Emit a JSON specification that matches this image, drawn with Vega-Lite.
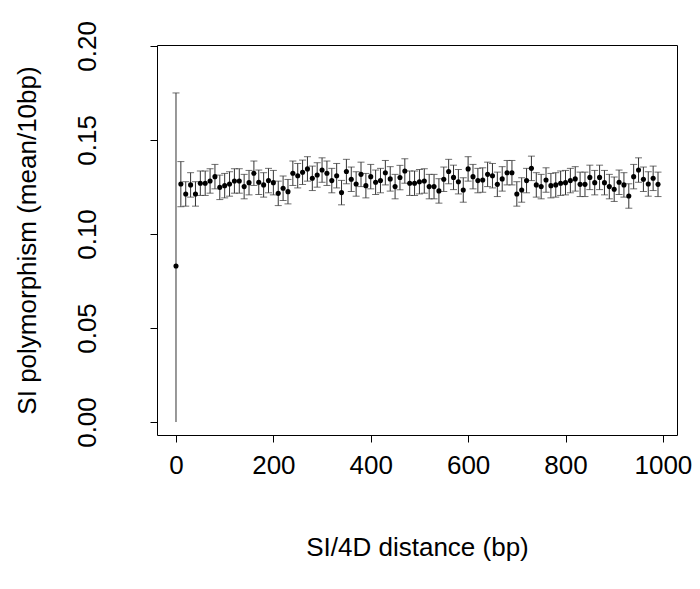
{
  "$schema": "https://vega.github.io/schema/vega-lite/v6.json",
  "autosize": "none",
  "padding": {"left": 157, "top": 45, "right": 23, "bottom": 154},
  "width": 520,
  "height": 390,
  "background": "white",
  "config": {
    "view": {"stroke": "black", "strokeWidth": 1},
    "font": "Liberation Sans",
    "axis": {"grid": false, "domain": false, "tickColor": "black", "tickSize": 7, "labelFontSize": 26, "titleFontSize": 26, "titleFontWeight": "normal", "labelColor": "black", "titleColor": "black", "labelFont": "Liberation Sans", "titleFont": "Liberation Sans"}
  },
  "data": {
    "values": [
      {"d": 0, "v": 0.083, "lo": 0.0, "hi": 0.175},
      {"d": 10, "v": 0.1266, "lo": 0.1145, "hi": 0.1385},
      {"d": 20, "v": 0.1213, "lo": 0.1148, "hi": 0.1278}, {"d": 30, "v": 0.1261, "lo": 0.1196, "hi": 0.1326},
      {"d": 40, "v": 0.1213, "lo": 0.1148, "hi": 0.1278}, {"d": 50, "v": 0.1270, "lo": 0.1205, "hi": 0.1335},
      {"d": 60, "v": 0.1270, "lo": 0.1205, "hi": 0.1335}, {"d": 70, "v": 0.1282, "lo": 0.1217, "hi": 0.1347},
      {"d": 80, "v": 0.1305, "lo": 0.1240, "hi": 0.1370}, {"d": 90, "v": 0.1248, "lo": 0.1183, "hi": 0.1313},
      {"d": 100, "v": 0.1257, "lo": 0.1192, "hi": 0.1322}, {"d": 110, "v": 0.1266, "lo": 0.1201, "hi": 0.1331},
      {"d": 120, "v": 0.1282, "lo": 0.1217, "hi": 0.1347}, {"d": 130, "v": 0.1282, "lo": 0.1217, "hi": 0.1347},
      {"d": 140, "v": 0.1252, "lo": 0.1187, "hi": 0.1317}, {"d": 150, "v": 0.1273, "lo": 0.1208, "hi": 0.1338},
      {"d": 160, "v": 0.1323, "lo": 0.1258, "hi": 0.1388}, {"d": 170, "v": 0.1275, "lo": 0.1210, "hi": 0.1340},
      {"d": 180, "v": 0.1261, "lo": 0.1196, "hi": 0.1326}, {"d": 190, "v": 0.1284, "lo": 0.1219, "hi": 0.1349},
      {"d": 200, "v": 0.1273, "lo": 0.1208, "hi": 0.1338}, {"d": 210, "v": 0.1216, "lo": 0.1151, "hi": 0.1281},
      {"d": 220, "v": 0.1243, "lo": 0.1178, "hi": 0.1308}, {"d": 230, "v": 0.1225, "lo": 0.1160, "hi": 0.1290},
      {"d": 240, "v": 0.1323, "lo": 0.1258, "hi": 0.1388}, {"d": 250, "v": 0.1310, "lo": 0.1245, "hi": 0.1375},
      {"d": 260, "v": 0.1328, "lo": 0.1263, "hi": 0.1393}, {"d": 270, "v": 0.1346, "lo": 0.1281, "hi": 0.1411},
      {"d": 280, "v": 0.1296, "lo": 0.1231, "hi": 0.1361}, {"d": 290, "v": 0.1314, "lo": 0.1249, "hi": 0.1379},
      {"d": 300, "v": 0.1340, "lo": 0.1275, "hi": 0.1405}, {"d": 310, "v": 0.1323, "lo": 0.1258, "hi": 0.1388},
      {"d": 320, "v": 0.1284, "lo": 0.1219, "hi": 0.1349}, {"d": 330, "v": 0.1310, "lo": 0.1245, "hi": 0.1375},
      {"d": 340, "v": 0.1220, "lo": 0.1155, "hi": 0.1285}, {"d": 350, "v": 0.1332, "lo": 0.1267, "hi": 0.1397},
      {"d": 360, "v": 0.1291, "lo": 0.1226, "hi": 0.1356}, {"d": 370, "v": 0.1266, "lo": 0.1201, "hi": 0.1331},
      {"d": 380, "v": 0.1317, "lo": 0.1252, "hi": 0.1382}, {"d": 390, "v": 0.1257, "lo": 0.1192, "hi": 0.1322},
      {"d": 400, "v": 0.1305, "lo": 0.1240, "hi": 0.1370}, {"d": 410, "v": 0.1275, "lo": 0.1210, "hi": 0.1340},
      {"d": 420, "v": 0.1284, "lo": 0.1219, "hi": 0.1349}, {"d": 430, "v": 0.1326, "lo": 0.1261, "hi": 0.1391},
      {"d": 440, "v": 0.1293, "lo": 0.1228, "hi": 0.1358}, {"d": 450, "v": 0.1252, "lo": 0.1187, "hi": 0.1317},
      {"d": 460, "v": 0.1300, "lo": 0.1235, "hi": 0.1365}, {"d": 470, "v": 0.1335, "lo": 0.1270, "hi": 0.1400},
      {"d": 480, "v": 0.1270, "lo": 0.1205, "hi": 0.1335}, {"d": 490, "v": 0.1270, "lo": 0.1205, "hi": 0.1335},
      {"d": 500, "v": 0.1278, "lo": 0.1213, "hi": 0.1343}, {"d": 510, "v": 0.1282, "lo": 0.1217, "hi": 0.1347},
      {"d": 520, "v": 0.1252, "lo": 0.1187, "hi": 0.1317}, {"d": 530, "v": 0.1252, "lo": 0.1187, "hi": 0.1317},
      {"d": 540, "v": 0.1229, "lo": 0.1164, "hi": 0.1294}, {"d": 550, "v": 0.1291, "lo": 0.1226, "hi": 0.1356},
      {"d": 560, "v": 0.1332, "lo": 0.1267, "hi": 0.1397}, {"d": 570, "v": 0.1301, "lo": 0.1236, "hi": 0.1366},
      {"d": 580, "v": 0.1278, "lo": 0.1213, "hi": 0.1343}, {"d": 590, "v": 0.1234, "lo": 0.1169, "hi": 0.1299},
      {"d": 600, "v": 0.1346, "lo": 0.1281, "hi": 0.1411}, {"d": 610, "v": 0.1305, "lo": 0.1240, "hi": 0.1370},
      {"d": 620, "v": 0.1284, "lo": 0.1219, "hi": 0.1349}, {"d": 630, "v": 0.1287, "lo": 0.1222, "hi": 0.1352},
      {"d": 640, "v": 0.1317, "lo": 0.1252, "hi": 0.1382}, {"d": 650, "v": 0.1310, "lo": 0.1245, "hi": 0.1375},
      {"d": 660, "v": 0.1264, "lo": 0.1199, "hi": 0.1329}, {"d": 670, "v": 0.1293, "lo": 0.1228, "hi": 0.1358},
      {"d": 680, "v": 0.1326, "lo": 0.1261, "hi": 0.1391}, {"d": 690, "v": 0.1326, "lo": 0.1261, "hi": 0.1391},
      {"d": 700, "v": 0.1213, "lo": 0.1148, "hi": 0.1278}, {"d": 710, "v": 0.1234, "lo": 0.1169, "hi": 0.1299},
      {"d": 720, "v": 0.1284, "lo": 0.1219, "hi": 0.1349}, {"d": 730, "v": 0.1349, "lo": 0.1284, "hi": 0.1414},
      {"d": 740, "v": 0.1261, "lo": 0.1196, "hi": 0.1326}, {"d": 750, "v": 0.1252, "lo": 0.1187, "hi": 0.1317},
      {"d": 760, "v": 0.1287, "lo": 0.1222, "hi": 0.1352}, {"d": 770, "v": 0.1257, "lo": 0.1192, "hi": 0.1322},
      {"d": 780, "v": 0.1261, "lo": 0.1196, "hi": 0.1326}, {"d": 790, "v": 0.1270, "lo": 0.1205, "hi": 0.1335},
      {"d": 800, "v": 0.1273, "lo": 0.1208, "hi": 0.1338}, {"d": 810, "v": 0.1284, "lo": 0.1219, "hi": 0.1349},
      {"d": 820, "v": 0.1293, "lo": 0.1228, "hi": 0.1358}, {"d": 830, "v": 0.1264, "lo": 0.1199, "hi": 0.1329},
      {"d": 840, "v": 0.1264, "lo": 0.1199, "hi": 0.1329}, {"d": 850, "v": 0.1301, "lo": 0.1236, "hi": 0.1366},
      {"d": 860, "v": 0.1273, "lo": 0.1208, "hi": 0.1338}, {"d": 870, "v": 0.1301, "lo": 0.1236, "hi": 0.1366},
      {"d": 880, "v": 0.1273, "lo": 0.1208, "hi": 0.1338}, {"d": 890, "v": 0.1252, "lo": 0.1187, "hi": 0.1317},
      {"d": 900, "v": 0.1238, "lo": 0.1173, "hi": 0.1303}, {"d": 910, "v": 0.1275, "lo": 0.1210, "hi": 0.1340},
      {"d": 920, "v": 0.1261, "lo": 0.1196, "hi": 0.1326}, {"d": 930, "v": 0.1202, "lo": 0.1137, "hi": 0.1267},
      {"d": 940, "v": 0.1305, "lo": 0.1240, "hi": 0.1370}, {"d": 950, "v": 0.1340, "lo": 0.1275, "hi": 0.1405},
      {"d": 960, "v": 0.1291, "lo": 0.1226, "hi": 0.1356}, {"d": 970, "v": 0.1266, "lo": 0.1201, "hi": 0.1331},
      {"d": 980, "v": 0.1296, "lo": 0.1231, "hi": 0.1361}, {"d": 990, "v": 0.1264, "lo": 0.1199, "hi": 0.1329}
    ]
  },
  "encoding": {
    "x": {"field": "d", "type": "quantitative", "scale": {"domain": [-39, 1029], "nice": false, "zero": false},
      "axis": {"values": [0, 200, 400, 600, 800, 1000], "format": "d", "title": "SI/4D distance (bp)", "labelPadding": 10, "titlePadding": 56}}
  },
  "layer": [
    {
      "mark": {"type": "rule", "color": "#333", "strokeWidth": 1},
      "encoding": {
        "y": {"field": "lo", "type": "quantitative", "scale": {"domain": [-0.0069, 0.2005], "nice": false, "zero": false},
          "axis": {"values": [0, 0.05, 0.1, 0.15, 0.2], "format": ".2f", "title": "SI polymorphism (mean/10bp)", "labelAngle": 270, "labelAlign": "center", "labelBaseline": "bottom", "labelPadding": 50, "titlePadding": 34}},
        "y2": {"field": "hi"}
      }
    },
    {
      "mark": {"type": "tick", "orient": "horizontal", "color": "#333", "size": 7, "thickness": 1},
      "encoding": {"y": {"field": "hi", "type": "quantitative"}}
    },
    {
      "transform": [{"filter": "datum.d > 0"}],
      "mark": {"type": "tick", "orient": "horizontal", "color": "#333", "size": 7, "thickness": 1},
      "encoding": {"y": {"field": "lo", "type": "quantitative"}}
    },
    {
      "mark": {"type": "circle", "color": "black", "opacity": 1, "size": 26},
      "encoding": {"y": {"field": "v", "type": "quantitative"}}
    }
  ]
}
